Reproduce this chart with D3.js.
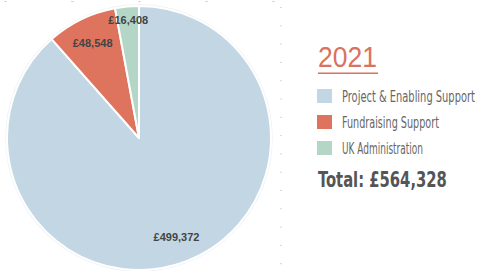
<!DOCTYPE html>
<html>
<head>
<meta charset="utf-8">
<script src="https://cdn.jsdelivr.net/npm/d3@7"></script>
<style>
  body { margin: 0; background: #fff; }
  svg { display: block; }
</style>
</head>
<body>
<div id="pie"></div>
<script>
(function() {
// data
const categories = ["Project & Enabling Support", "Fundraising Support", "UK Administration"];
const values = [499372, 48548, 16408];
const colors = ["#c3d6e3", "#de745d", "#b3d6c6"];
const year = "2021";
const totalLabel = "Total: £564,328";

const width = 487, height = 271;
const cx = 139, cy = 138, radius = 132;

let svg = d3.select("#pie")
  .append("svg")
    .attr("width", width)
    .attr("height", height);

// squeeze a text horizontally to a target width (keeps the tall condensed look)
function fitWidth(sel, w) {
  sel.each(function(d, i) {
    let t = d3.select(this);
    let target = typeof w === "function" ? w(d, i) : w;
    let x = +t.attr("x") || 0, y = +t.attr("y") || 0;
    let k = target / this.getComputedTextLength();
    t.attr("transform", "translate(" + x + "," + y + ") scale(" + k + ",1)")
      .attr("x", 0).attr("y", 0);
  });
}

// faint dotted guides left over from the original layout
let guides = svg.append("g").attr("fill", "#d8d8d8");
guides.selectAll(".hdot")
  .data(d3.range(5))
  .enter().append("rect")
    .attr("x", d => 4 + d * 67)
    .attr("y", 1)
    .attr("width", 3)
    .attr("height", 1);
guides.selectAll(".vdot")
  .data(d3.range(15))
  .enter().append("rect")
    .attr("x", 280)
    .attr("y", d => 7 + d * 18.3)
    .attr("width", 2)
    .attr("height", 1);

// pie
let pie = d3.pie().sort(null).value(d => d);
let arcs = pie(values);
let arc = d3.arc().innerRadius(0).outerRadius(radius);
let total = d3.sum(values);

let g = svg.append("g")
  .attr("transform", "translate(" + cx + "," + cy + ")");

g.append("circle")
  .attr("r", radius + 1)
  .attr("fill", "none")
  .attr("stroke", "#eef2f5")
  .attr("stroke-width", 1.5);

g.selectAll("path")
  .data(arcs)
  .enter().append("path")
    .attr("d", arc)
    .attr("fill", (d, i) => colors[i])
    .attr("stroke", "#fff")
    .attr("stroke-width", 2)
    .attr("stroke-linejoin", "round");

// value labels, small slices pushed further out
g.selectAll("text")
  .data(arcs)
  .enter().append("text")
    .attr("transform", function(d) {
      let r = d.value / total < 0.05 ? 118 : 106;
      let a = (d.startAngle + d.endAngle) / 2;
      return "translate(" + (Math.sin(a) * r) + "," + (-Math.cos(a) * r) + ")";
    })
    .attr("dy", "0.35em")
    .attr("text-anchor", "middle")
    .style("font-family", "Arial, 'Liberation Sans', sans-serif")
    .style("font-weight", "bold")
    .style("font-size", "11px")
    .style("fill", "#444")
    .text(d => "£" + d3.format(",")(d.value));

// legend
const narrow = "'Liberation Sans Narrow', 'DejaVu Sans Condensed', 'Roboto', sans-serif";
let legend = svg.append("g").attr("transform", "translate(318,0)");

legend.append("text")
  .attr("x", 0)
  .attr("y", 67)
  .style("font-family", "Arial, 'Liberation Sans', sans-serif")
  .style("font-size", "29px")
  .style("fill", "#d9735d")
  .text(year)
  .call(fitWidth, 59);

legend.append("rect")
  .attr("x", 0)
  .attr("y", 72.5)
  .attr("width", 60)
  .attr("height", 1.5)
  .attr("fill", "#d9735d");

let entries = legend.selectAll(".legend-entry")
  .data(categories)
  .enter().append("g")
    .attr("class", "legend-entry")
    .attr("transform", (d, i) => "translate(0," + (89 + i * 26) + ")");

entries.append("rect")
  .attr("x", -1)
  .attr("y", 0)
  .attr("width", 15)
  .attr("height", 14)
  .attr("fill", (d, i) => colors[i]);

const textWidths = [133, 97, 81];
entries.append("text")
  .attr("x", 24)
  .attr("y", 13)
  .style("font-family", narrow)
  .style("font-size", "16px")
  .style("fill", "#666")
  .text(d => d)
  .call(fitWidth, (d, i) => textWidths[i]);

legend.append("text")
  .attr("x", 0)
  .attr("y", 187)
  .style("font-family", narrow)
  .style("font-weight", "bold")
  .style("font-size", "22px")
  .style("fill", "#555")
  .text(totalLabel)
  .call(fitWidth, 129);
})();
</script>
</body>
</html>
